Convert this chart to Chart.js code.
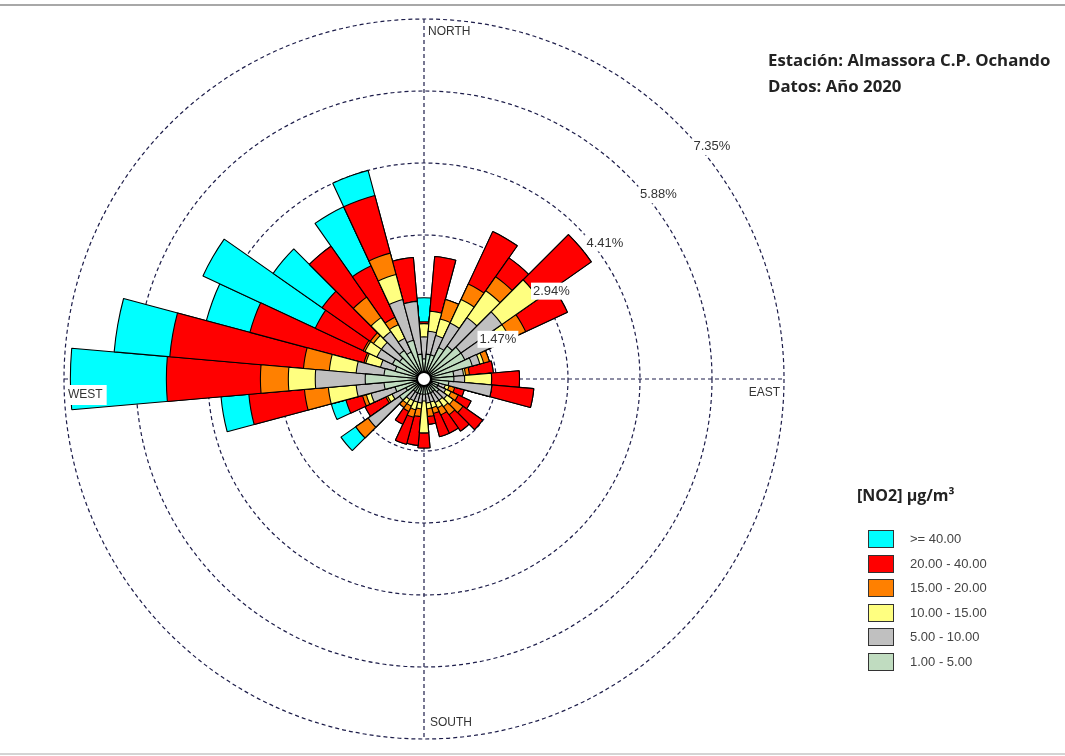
<!DOCTYPE html>
<html lang="es">
<head>
<meta charset="utf-8">
<script src="https://cdn.jsdelivr.net/npm/chart.js@4/dist/chart.umd.min.js"></script>
<style>
  body { margin: 0; background: #fff; }
  #wrap { position: relative; width: 1065px; height: 756px; overflow: hidden; }
  #canvas { position: absolute; left: 0; top: 0; }
  .rule { position: absolute; left: 0; width: 1065px; height: 2px; }
  #station { position: absolute; left: 768px; top: 47px; font: bold 16.8px "Open Sans", sans-serif; color: #222; line-height: 26px; }
  #legTitle { position: absolute; left: 857px; top: 484px; font: bold 16px "Open Sans", sans-serif; color: #222; }
  .sw { position: absolute; left: 868px; width: 24px; height: 16px; border: 1.5px solid #333; }
  .lt { position: absolute; left: 910px; font: 13px "Liberation Sans", Arial, sans-serif; color: #444; }
</style>
</head>
<body>
<div id="wrap">
  <div class="rule" style="top:4px;background:#a8a8a8"></div>
  <canvas id="canvas" width="1065" height="756"></canvas>
  <div id="station">Estación: Almassora C.P. Ochando<br>Datos: Año 2020</div>
  <div id="legTitle">[NO2] µg/m³</div>
  <div id="legend"></div>
  <div class="rule" style="top:753px;background:#d4d4d4"></div>
</div>
<script>
// wind directions, 10 degree sectors, clockwise from north
var directions = ['0','10','20','30','40','50','60','70','80','90','100','110','120','130','140','150','160','170',
                  '180','190','200','210','220','230','240','250','260','270','280','290','300','310','320','330','340','350'];

// frequency (% of hours) in each [NO2] class, per direction
var freq1to5 = [0.41,0.51,0.51,0.71,0.82,0.92,0.92,1.02,0.61,0.61,0.51,0.31,0.31,0.37,0.31,0.31,0.31,0.31,
                0.31,0.31,0.31,0.31,0.31,0.61,0.41,0.61,0.82,1.20,0.82,0.61,0.71,0.61,0.71,0.61,0.82,0.51];
var freq5to10 = [0.45,0.47,0.41,0.55,0.71,1.02,0.82,0.16,0.20,0.22,0.88,0.14,0.18,0.20,0.22,0.22,0.18,0.18,
                 0.14,0.18,0.18,0.18,0.20,0.78,0.31,0.51,0.57,1.02,0.57,0.31,0.35,0.45,0.47,0.31,0.86,1.08];
var freq10to15 = [0.27,0.41,0.35,0.53,0.67,0.92,0.20,0.08,0.04,0.55,0,0.08,0.12,0.16,0.16,0.12,0.12,0.12,
                  0.65,0.12,0.16,0.12,0.10,0,0.10,0.10,0.57,0.55,0.55,0.31,0.27,0.20,0.35,0.31,0.53,0];
var freq15to20 = [0,0,0.41,0.35,0.35,0,0.35,0.12,0.08,0,0,0.12,0.16,0.24,0.20,0.16,0.12,0.16,
                  0,0.16,0.16,0.12,0.10,0.31,0.04,0.08,0.49,0.57,0.53,0.04,0.04,0.08,0.51,0.16,0.45,0];
var freq20to40 = [0.04,1.12,0,1.18,0.47,1.31,0.94,0,0.49,0.57,0.86,0.20,0.29,0.49,0.41,0.41,0.49,0.16,
                  0.31,0.59,0.57,0.29,0,0,0.47,0.35,1.14,1.92,2.74,2.41,1.08,1.20,1.27,1.16,1.22,0.90];
var freq40up = [0.49,0,0,0,0,0,0,0,0,0,0,0,0,0,0,0,0,0,
                0,0,0,0,0,0.37,0,0.31,0.57,1.96,1.14,0.92,2.53,1.22,0,1.33,0.53,0];

var classLabels = ['1.00 - 5.00','5.00 - 10.00','10.00 - 15.00','15.00 - 20.00','20.00 - 40.00','>= 40.00'];
var classColors = ['#c0dcc0','#c0c0c0','#ffff80','#ff8000','#ff0000','#00ffff'];
var ringTicks = [0, 1.47, 2.94, 4.41, 5.88, 7.35];
var compass = ['NORTH','EAST','SOUTH','WEST'];

//Legend (highest class on top)
var legend = document.getElementById('legend');
for (var k = classLabels.length - 1, row = 0; k >= 0; k--, row++) {
    var sw = document.createElement('div');
    sw.className = 'sw';
    sw.style.top = (530 + row * 24.6) + 'px';
    sw.style.background = classColors[k];
    legend.appendChild(sw);
    var lt = document.createElement('div');
    lt.className = 'lt';
    lt.style.top = (531 + row * 24.6) + 'px';
    lt.textContent = classLabels[k];
    legend.appendChild(lt);
}

//Stack the classes: each dataset is the running total, drawn from the center
var series = [freq1to5, freq5to10, freq10to15, freq15to20, freq20to40, freq40up];
var datasets = [];
var running = directions.map(function() { return 0; });
series.forEach(function(s, k) {
    running = running.map(function(v, i) { return v + s[i]; });
    datasets.push({
        label: classLabels[k],
        data: running.slice(),
        backgroundColor: classColors[k],
        borderColor: '#000',
        borderWidth: 1.1
    });
});

var lineColor = '#1d1d4a';

var roseExtras = {
    id: 'roseExtras',
    beforeDatasetsDraw: function(chart) {
        var s = chart.scales.r, ctx = chart.ctx;
        var R = s.drawingArea;
        ctx.save();
        ctx.strokeStyle = lineColor;
        ctx.lineWidth = 1.2;
        ctx.setLineDash([4, 3]);
        ctx.beginPath();
        ctx.moveTo(s.xCenter, s.yCenter - R); ctx.lineTo(s.xCenter, s.yCenter + R);
        ctx.moveTo(s.xCenter - R, s.yCenter); ctx.lineTo(s.xCenter + R, s.yCenter);
        ctx.stroke();
        ctx.restore();
    },
    afterDatasetsDraw: function(chart) {
        var s = chart.scales.r, ctx = chart.ctx;
        var R = s.drawingArea, cx = s.xCenter, cy = s.yCenter;
        ctx.save();
        // calm circle
        ctx.beginPath();
        ctx.arc(cx, cy, 7, 0, Math.PI * 2);
        ctx.fillStyle = '#fff';
        ctx.fill();
        ctx.lineWidth = 2;
        ctx.strokeStyle = '#000';
        ctx.stroke();

        // ring labels
        ctx.font = '13px "Liberation Sans", Arial, sans-serif';
        ctx.textBaseline = 'top';
        ctx.textAlign = 'left';
        var a = 48 * Math.PI / 180;
        ringTicks.forEach(function(v) {
            if (v === 0) return;
            var d = s.getDistanceFromCenterForValue(v);
            var x = cx + d * Math.sin(a) + 2, y = cy - d * Math.cos(a) + 2;
            var txt = v.toFixed(2) + '%';
            var w = ctx.measureText(txt).width;
            ctx.fillStyle = '#fff';
            ctx.fillRect(x - 2, y - 2, w + 4, 17);
            ctx.fillStyle = '#333';
            ctx.fillText(txt, x, y);
        });

        // compass labels
        ctx.font = '12px "Liberation Sans", Arial, sans-serif';
        ctx.fillStyle = '#333';
        ctx.fillText(compass[0], cx + 4, cy - R + 7);
        ctx.fillText(compass[2], cx + 6, cy + R - 22);
        ctx.textAlign = 'right';
        ctx.fillText(compass[1], cx + R - 4, cy + 8);
        ctx.textAlign = 'left';
        var ww = ctx.measureText(compass[3]).width;
        ctx.fillStyle = '#fff';
        ctx.fillRect(cx - R + 2, cy + 6, ww + 6, 20);
        ctx.fillStyle = '#333';
        ctx.fillText(compass[3], cx - R + 4, cy + 10);
        ctx.restore();
    }
};

var ctx = document.getElementById('canvas').getContext('2d');
new Chart(ctx, {
    type: 'polarArea',
    data: { labels: directions, datasets: datasets },
    options: {
        responsive: false,
        animation: false,
        events: [],
        layout: { padding: { left: 64, top: 19, right: 281, bottom: 17 } },
        plugins: { legend: { display: false }, tooltip: { enabled: false } },
        scales: {
            r: {
                min: 0,
                max: 7.35,
                startAngle: -5,
                afterBuildTicks: function(scale) {
                    scale.ticks = ringTicks.map(function(v) { return { value: v }; });
                },
                ticks: { display: false },
                angleLines: { display: false },
                pointLabels: { display: false },
                grid: { circular: true, color: lineColor, lineWidth: 1.2 },
                border: { dash: [4, 3] }
            }
        }
    },
    plugins: [roseExtras]
});
</script>
</body>
</html>
